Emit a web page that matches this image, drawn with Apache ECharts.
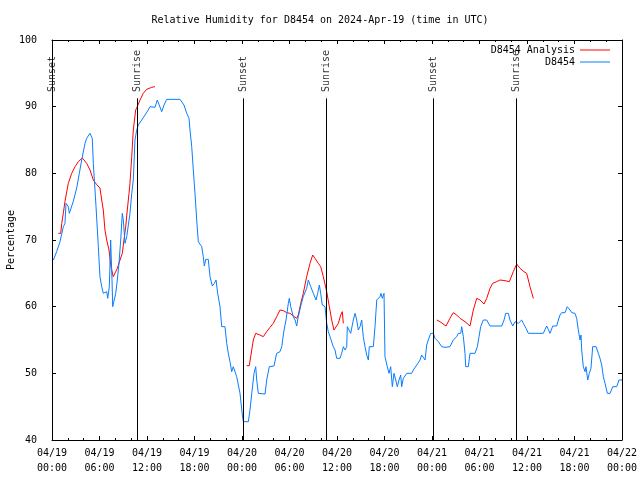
<!DOCTYPE html>
<html>
<head>
<meta charset="utf-8">
<script src="https://cdn.jsdelivr.net/npm/echarts@6/dist/echarts.min.js"></script>
<style>html,body{margin:0;padding:0;background:#fff}#c{width:640px;height:480px}</style>
</head>
<body>
<div id="c"></div>
<script>
// x values are hours since 2024-04-19 00:00 UTC
var xTickLabels = ['04/19\n00:00','04/19\n06:00','04/19\n12:00','04/19\n18:00','04/20\n00:00','04/20\n06:00','04/20\n12:00','04/20\n18:00','04/21\n00:00','04/21\n06:00','04/21\n12:00','04/21\n18:00','04/22\n00:00'];
var sunEventHours = [0.05, 10.78, 24.17, 34.65, 48.17, 58.65];
var sunEventNames = ['Sunset','Sunrise','Sunset','Sunrise','Sunset','Sunrise'];

var stationData = [[0.17,67],[0.59,68.25],[1.01,69.75],[1.43,72],[1.64,72.5],[1.77,75.5],[2.06,75],[2.19,74],[2.27,74],[2.69,75.8],[3.12,77.8],[3.45,80],[3.75,82],[4.17,84.5],[4.38,85.25],[4.80,86],[5.09,85.25],[5.22,81.5],[5.56,75],[5.85,69],[6.06,64.5],[6.28,63],[6.48,62],[6.91,62.25],[7.04,61.25],[7.24,63],[7.41,70],[7.58,64],[7.67,60],[7.83,60.25],[8.05,62],[8.25,64],[8.46,66.5],[8.68,70],[8.88,74],[9.01,73],[9.22,69.5],[9.44,70.5],[9.85,74],[10.07,77],[10.27,79],[10.48,85],[10.70,86.5],[10.90,87.25],[11.33,88],[11.75,88.75],[12.16,89.5],[12.38,90],[13.01,89.9],[13.30,91],[13.86,89.25],[14.15,90.25],[14.49,91.1],[16.17,91.1],[16.67,90.25],[17.02,89],[17.31,88.25],[17.43,86.5],[17.65,84],[17.85,80.5],[18.06,77],[18.28,73],[18.48,69.75],[18.70,69.5],[18.91,69],[19.11,67.5],[19.24,66.1],[19.42,67.1],[19.74,67.1],[19.96,64.5],[20.25,63.1],[20.50,63.5],[20.72,64],[20.93,62],[21.22,60],[21.44,57],[21.85,57],[22.07,54.5],[22.27,53],[22.48,51.75],[22.70,50.25],[22.90,51],[23.33,49.5],[23.75,47],[24.04,43.75],[24.17,42.75],[24.80,42.75],[25.01,44.5],[25.23,47],[25.52,50],[25.73,51],[25.86,49],[26.06,47],[26.91,46.9],[27.12,49],[27.45,51],[28.04,51.1],[28.38,53],[28.80,53.25],[29.02,54],[29.31,56.5],[29.56,58],[29.85,60.5],[29.98,61.25],[30.15,60],[30.48,58.5],[30.70,58],[30.91,57.1],[31.11,58.5],[31.45,60.25],[31.74,61.5],[32.17,62.75],[32.38,64],[32.68,63],[33.01,62],[33.35,61],[33.56,62],[33.77,63.25],[33.94,62],[34.14,60.25],[34.49,60],[34.70,57.5],[34.90,56.25],[35.12,55.5],[35.53,54],[35.75,53.5],[35.96,52.25],[36.38,52.25],[36.59,53],[36.80,54],[37.01,53.5],[37.23,54],[37.30,57],[37.52,56.5],[37.73,56],[38.06,58],[38.28,59],[38.49,58],[38.69,56.5],[38.91,57],[39.12,58],[39.32,55.5],[39.54,54],[39.75,52.75],[39.96,52],[40.08,54],[40.59,54],[40.80,57],[41.02,61],[41.43,61.5],[41.56,62],[41.72,61.25],[41.94,62],[42.06,52.5],[42.35,51],[42.57,50],[42.78,51],[42.99,48],[43.20,50],[43.42,49],[43.62,48],[43.83,49],[44.05,49.75],[44.17,48],[44.38,49.25],[44.81,50],[45.44,50],[45.64,50.5],[46.07,51.25],[46.49,52],[46.70,52.75],[46.90,53],[47.12,52],[47.33,54.25],[47.53,55],[47.84,56],[48.17,56],[48.38,55.25],[48.80,54.75],[49.23,54],[49.64,53.9],[50.27,54],[50.69,55],[51.12,55.5],[51.32,56],[51.63,56],[51.75,57],[51.96,55.5],[52.17,53],[52.26,51],[52.59,51],[52.80,53],[53.43,53],[53.73,54],[53.94,55.5],[54.15,57],[54.48,58],[54.91,58],[55.11,57.75],[55.33,57.1],[56.81,57.1],[57.10,58],[57.31,59],[57.64,59],[57.85,58],[58.20,57.1],[58.49,57.75],[58.70,58],[58.90,57.5],[59.12,57.25],[59.33,58],[59.53,57.5],[59.88,56.75],[60.17,56],[62.06,56],[62.28,56.6],[62.49,57.1],[62.69,56.6],[62.91,56],[63.25,57.1],[63.75,57.1],[63.96,58],[64.17,58.75],[64.38,59.1],[64.80,59.1],[65.09,60],[65.43,59.5],[65.65,59.1],[66.06,59],[66.28,58.25],[66.48,56.5],[66.70,55],[66.82,55.75],[66.91,53.5],[67.11,51],[67.33,50.25],[67.45,51],[67.67,49],[67.87,50],[68.08,50.75],[68.30,54],[68.72,54],[69.01,53],[69.22,52.25],[69.44,51.25],[69.64,49.5],[69.86,48.5],[70.15,47],[70.49,47],[70.83,48],[71.33,48],[71.62,49],[72.0,49]];

var analysisSeg1 = [[0.80,71],[1.10,71],[1.23,72.5],[1.43,74],[1.64,75.8],[2.06,78.5],[2.49,80],[2.91,81],[3.32,81.75],[3.83,82.3],[4.38,81.5],[4.80,80.5],[5.22,79],[5.65,78.3],[6.06,77.8],[6.28,76],[6.48,74.5],[6.69,71.5],[6.91,70],[7.20,68.5],[7.45,66],[7.74,64.5],[7.96,64.75],[8.25,65.75],[8.59,67],[8.88,68],[9.09,70],[9.31,72],[9.51,74.5],[9.73,77],[9.85,78.5],[10.07,82.5],[10.27,86.5],[10.57,89.5],[10.77,90],[11.12,91],[11.53,92],[11.96,92.6],[12.59,92.9],[13.01,93]];
var analysisSeg2 = [[24.59,51.15],[24.92,51.15],[25.23,53.5],[25.43,55],[25.73,56],[26.27,55.75],[26.69,55.5],[27.12,56.25],[27.54,56.9],[27.95,57.5],[28.38,58.5],[28.80,59.5],[29.22,59.4],[29.65,59.1],[30.06,59],[30.48,58.6],[30.91,58.25],[31.11,58.75],[31.42,60.5],[31.74,62],[32.17,64.5],[32.59,66.5],[32.93,67.75],[33.22,67.25],[33.64,66.5],[33.94,66],[34.27,64.5],[34.70,62.25],[35.03,60],[35.33,58],[35.62,56.5],[35.87,56.25],[36.17,57.5],[36.47,58.75],[36.67,59.25],[36.80,57.5]];
var analysisSeg3 = [[48.60,58],[49.01,57.75],[49.77,57.1],[50.27,58.25],[50.69,59.1],[51.12,58.75],[51.54,58.25],[52.17,57.75],[52.80,57.1],[53.22,59.5],[53.65,61.25],[54.07,61],[54.57,60.4],[54.91,61.25],[55.33,62.75],[55.67,63.5],[56.17,63.75],[56.59,64],[57.22,63.9],[57.77,63.75],[58.27,65.25],[58.70,66.4],[59.12,65.75],[59.62,65.25],[59.96,65],[60.38,63],[60.80,61.25]];

var FONT = 'DejaVu Sans Mono';
var RED = '#ff0000', BLUE = '#0a7cff';
var chart = echarts.init(document.getElementById('c'), null, {renderer: 'canvas'});

var sunLineData = sunEventHours.map(function (h) {
  return [{coord: [h, 40]}, {coord: [h, 91.25]}];
});
var sunLabelData = sunEventHours.map(function (h, i) {
  return {value: [h, 92.2], label: {formatter: sunEventNames[i]}};
});

function lineSeries(name, data, color, z) {
  return {
    name: name, type: 'line', data: data, xAxisIndex: 0, yAxisIndex: 0,
    symbol: 'none', showSymbol: false, z: z,
    lineStyle: {color: color, width: 1}, itemStyle: {color: color},
    emphasis: {disabled: true}, animation: false
  };
}

var axisCommon = {
  axisLine: {show: true, onZero: false, lineStyle: {color: '#000', width: 1}},
  splitLine: {show: false}
};

chart.setOption({
  animation: false,
  backgroundColor: '#fff',
  textStyle: {fontFamily: FONT},
  title: {
    text: 'Relative Humidity for D8454 on 2024-Apr-19 (time in UTC)',
    left: 'center', top: 10,
    textStyle: {fontFamily: FONT, fontSize: 10, fontWeight: 'normal', color: '#000'}
  },
  legend: {
    orient: 'vertical', right: 30, top: 44, align: 'right', padding: 0,
    icon: 'rect', itemWidth: 30, itemHeight: 1, itemGap: 0,
    textStyle: {fontFamily: FONT, fontSize: 10, color: '#000', lineHeight: 12},
    data: ['D8454 Analysis', 'D8454'],
    selectedMode: false
  },
  grid: {left: 52, right: 18, top: 40, bottom: 40, containLabel: false, outerBoundsMode: 'none'},
  xAxis: [
    Object.assign({
      type: 'value', position: 'bottom', min: 0, max: 72, interval: 6,
      axisTick: {show: true, inside: true, length: 4, lineStyle: {color: '#000'}},
      minorTick: {show: true, splitNumber: 3, length: 2, lineStyle: {color: '#000'}},
      axisLabel: {
        margin: 6, lineHeight: 15, fontFamily: FONT, fontSize: 10, color: '#000',
        formatter: function (v) { return xTickLabels[Math.round(v / 6)]; }
      }
    }, axisCommon),
    Object.assign({
      type: 'value', position: 'top', min: 0, max: 72, interval: 6,
      axisTick: {show: true, inside: true, length: 4, lineStyle: {color: '#000'}},
      minorTick: {show: true, splitNumber: 3, length: 2, lineStyle: {color: '#000'}},
      axisLabel: {show: false}
    }, axisCommon)
  ],
  yAxis: [
    Object.assign({
      type: 'value', position: 'left', min: 40, max: 100, interval: 10,
      name: 'Percentage', nameLocation: 'middle', nameGap: 36, nameRotate: 90,
      nameMoveOverlap: false,
      nameTextStyle: {fontFamily: FONT, fontSize: 10, color: '#000'},
      axisTick: {show: true, inside: true, length: 4, lineStyle: {color: '#000'}},
      axisLabel: {margin: 15, fontFamily: FONT, fontSize: 10, color: '#000'}
    }, axisCommon),
    Object.assign({
      type: 'value', position: 'right', min: 40, max: 100, interval: 10,
      axisTick: {show: true, inside: true, length: 4, lineStyle: {color: '#000'}},
      axisLabel: {show: false}
    }, axisCommon)
  ],
  series: [
    {
      name: 'sun', type: 'scatter', xAxisIndex: 0, yAxisIndex: 0,
      symbolSize: 0, data: sunLabelData, silent: true, z: 1,
      label: {
        show: true, position: 'top', distance: 0, rotate: 90,
        align: 'left', verticalAlign: 'middle',
        fontFamily: FONT, fontSize: 10, color: '#000'
      },
      markLine: {
        silent: true, symbol: ['none', 'none'], animation: false,
        label: {show: false},
        lineStyle: {color: '#000', width: 1, type: 'solid'},
        data: sunLineData
      }
    },
    lineSeries('D8454 Analysis', analysisSeg1, RED, 3),
    lineSeries('D8454 Analysis', analysisSeg2, RED, 3),
    lineSeries('D8454 Analysis', analysisSeg3, RED, 3),
    lineSeries('D8454', stationData, BLUE, 4)
  ]
});
</script>
</body>
</html>
